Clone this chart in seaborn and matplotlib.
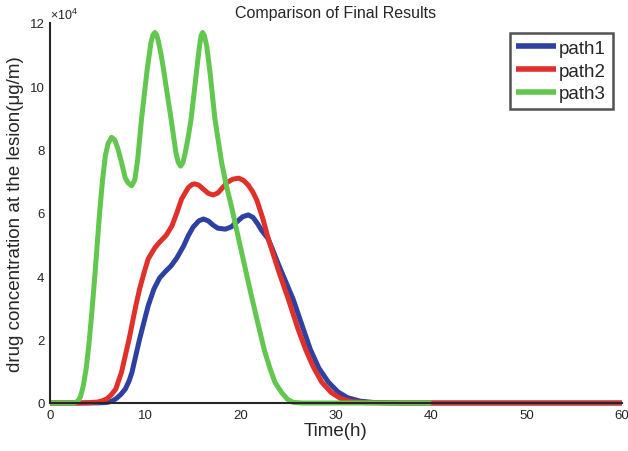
import numpy as np
import pandas as pd
import matplotlib
matplotlib.use("Agg")
import matplotlib.pyplot as plt
import seaborn as sns
from matplotlib.ticker import FuncFormatter

# ---- data (concentration in units of 1e4 ug/m) ----
t_path1 = [0, 4, 5, 5.5, 6.0, 6.5, 6.9, 7.4, 7.9, 8.3, 8.6, 9.0, 9.4, 9.85, 10.3, 10.9,
           11.5, 12.1, 12.7, 13.3, 14.0, 14.5, 15.0, 15.6, 16.1, 16.6, 17.1, 17.6, 18.4,
           19.0, 19.6, 20.2, 20.8, 21.3, 21.8, 22.2, 22.9, 24.0, 25.5, 26.5, 27.3, 28.2,
           29.2, 30.2, 31.2, 32.5, 34, 37, 40, 50, 60]
v_path1 = [0, 0, 0.005, 0.01, 0.02, 0.06, 0.13, 0.26, 0.44, 0.7, 0.97, 1.5, 2.02, 2.55,
           3.07, 3.6, 3.95, 4.15, 4.33, 4.58, 4.95, 5.28, 5.55, 5.75, 5.81, 5.75, 5.62,
           5.52, 5.49, 5.56, 5.72, 5.88, 5.94, 5.86, 5.65, 5.45, 5.18, 4.35, 3.28, 2.4, 1.7,
           1.1, 0.66, 0.35, 0.17, 0.06, 0.015, 0, 0, 0, 0]

t_path2 = [0, 3, 4, 5.0, 5.5, 5.95, 6.4, 6.9, 7.5, 7.9, 8.3, 8.65, 9.0, 9.4, 9.9, 10.3,
           11.0, 11.5, 12.2, 12.8, 13.3, 13.8, 14.5, 14.9, 15.2, 15.6, 16.1, 16.6, 17.1,
           17.6, 18.1, 18.6, 19.2, 19.8, 20.3, 20.8, 21.3, 21.7, 22.3, 22.9, 24.0, 25.0,
           26.0, 26.8, 27.6, 28.5, 29.5, 30.5, 31.5, 33, 36, 40, 50, 60]
v_path2 = [0, 0, 0.01, 0.03, 0.07, 0.13, 0.25, 0.44, 0.97, 1.5, 2.02, 2.55, 3.07, 3.6,
           4.15, 4.55, 4.9, 5.08, 5.3, 5.6, 6.0, 6.44, 6.8, 6.9, 6.92, 6.88, 6.75, 6.62,
           6.57, 6.63, 6.8, 6.97, 7.07, 7.1, 7.03, 6.88, 6.65, 6.4, 5.85, 5.18, 4.15, 3.28,
           2.35, 1.7, 1.15, 0.66, 0.33, 0.14, 0.05, 0.01, 0, 0, 0, 0]

t_path3 = [0, 2.5, 2.9, 3.2, 3.5, 3.8, 4.1, 4.4, 4.7, 5.0, 5.2, 5.5, 5.8, 6.1, 6.47, 6.8,
           7.1, 7.5, 7.9, 8.2, 8.57, 8.9, 9.2, 9.6, 10.2, 10.6, 10.8, 11.0, 11.2, 11.4,
           11.65, 11.9, 12.3, 12.7, 13.2, 13.45, 13.7, 13.95, 14.2, 14.5, 14.8, 15.1, 15.4,
           15.65, 15.85, 16.0, 16.2, 16.45, 16.8, 17.3, 18.0, 18.5, 19.0, 20.1, 21.0, 21.7,
           22.5, 23.1, 23.6, 24.3, 24.9, 25.5, 26.5, 40]
v_path3 = [0, 0, 0.05, 0.2, 0.55, 1.1, 1.9, 2.9, 4.0, 5.2, 6.0, 7.0, 7.8, 8.2, 8.39, 8.3,
           8.05, 7.6, 7.1, 6.95, 6.86, 7.05, 7.7, 8.97, 10.55, 11.4, 11.62, 11.7, 11.62,
           11.38, 11.0, 10.55, 9.75, 8.97, 7.92, 7.6, 7.48, 7.6, 7.92, 8.4, 8.97, 9.75,
           10.55, 11.2, 11.6, 11.7, 11.6, 11.25, 10.4, 8.97, 7.6, 6.86, 6.25, 4.76, 3.55,
           2.65, 1.65, 1.07, 0.65, 0.33, 0.12, 0.02, 0, 0]

series_names = ["path1", "path2", "path3"]
colors = ["#2E40A0", "#E0302A", "#62C74E"]
x_ticks = [0, 10, 20, 30, 40, 50, 60]
y_ticks = [0, 2, 4, 6, 8, 10, 12]
scale = 1e4

frames = []
for name, t, v in zip(series_names, [t_path1, t_path2, t_path3], [v_path1, v_path2, v_path3]):
    frames.append(pd.DataFrame({"Time": t, "Conc": np.array(v) * scale, "path": name}))
df = pd.concat(frames, ignore_index=True)

sns.set_theme(style="white")
plt.rcParams["font.family"] = ["Liberation Sans", "DejaVu Sans"]
plt.rcParams["mathtext.fontset"] = "custom"
plt.rcParams["mathtext.rm"] = "Liberation Sans"

fig, ax = plt.subplots(figsize=(6.28, 4.52), dpi=100)
fig.subplots_adjust(left=50/628, right=622/628, top=1-24/452, bottom=1-404/452)

sns.lineplot(data=df, x="Time", y="Conc", hue="path", hue_order=series_names,
             palette=colors, linewidth=3.6, ax=ax, sort=False, estimator=None)
for ln in ax.get_lines():
    ln.set_clip_on(False)
    ln.set_solid_capstyle("butt")
    ln.set_solid_joinstyle("round")

ax.set_xlim(0, 60)
ax.set_ylim(0, 12 * scale)
ax.set_xticks(x_ticks)
ax.set_yticks([y * scale for y in y_ticks])
ax.yaxis.set_major_formatter(FuncFormatter(lambda v, p: f"{v/scale:g}"))
ax.text(0.0, 1.003, r"$\times10^{4}$", transform=ax.transAxes, fontsize=9,
        color="#262626", ha="left", va="bottom")

ax.spines["top"].set_visible(False)
ax.spines["right"].set_visible(False)
for s in ["left", "bottom"]:
    ax.spines[s].set_color("#262626")
    ax.spines[s].set_linewidth(1.5)
ax.tick_params(direction="in", length=5, width=1.2, colors="#262626", labelsize=9.5,
               labelcolor="#262626", pad=4)

ax.set_xlabel("Time(h)", fontsize=13.5, color="#262626", labelpad=1)
ax.set_ylabel("drug concentration at the lesion(μg/m)", fontsize=13.5, color="#262626", labelpad=4)
ax.set_title("Comparison of Final Results", fontsize=11.5, color="#262626", pad=4)

leg = ax.legend(loc="upper right", bbox_to_anchor=(0.984, 0.973), fontsize=13.5,
                frameon=True, fancybox=False, handlelength=2.1, handletextpad=0.2,
                borderpad=0.35, labelspacing=0.3, borderaxespad=0)
leg.get_frame().set_edgecolor("#262626")
leg.get_frame().set_linewidth(1.8)
for h in leg.get_lines():
    h.set_linewidth(4)

fig.savefig("out.png", dpi=100)
